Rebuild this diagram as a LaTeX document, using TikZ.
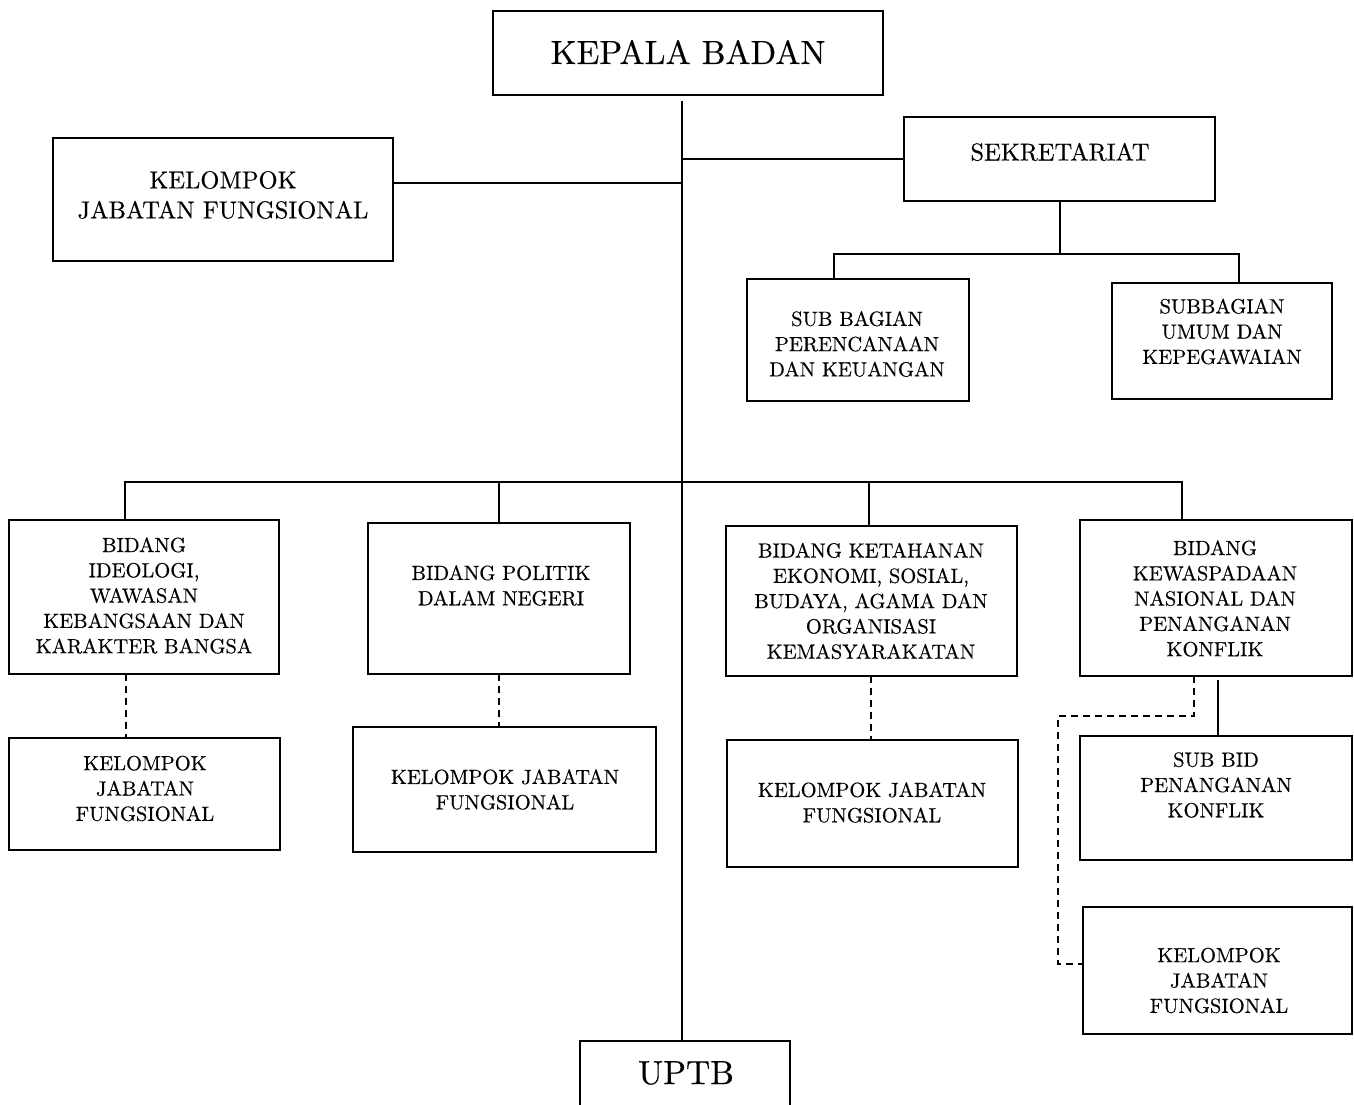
\documentclass[tikz,border=0pt]{standalone}
\usepackage{fontspec}
\setmainfont{lmroman10-regular.otf}[FakeBold=0.35]
\usetikzlibrary{fit}
\begin{document}
\begin{tikzpicture}[x=1pt,y=-1pt,
  box/.style={draw=black, line width=1.8pt, inner sep=0pt, outer sep=0pt},
  conn/.style={draw=black, line width=1.8pt},
  dsh/.style={draw=black, line width=1.8pt, dash pattern=on 7pt off 5pt},
  tbig/.style={align=center, inner sep=0pt, font=\fontsize{33.5}{40}\selectfont},
  tmid/.style={align=center, inner sep=0pt, font=\fontsize{24.5}{30}\selectfont},
  tsm/.style={align=center, inner sep=0pt, font=\fontsize{20.5}{25.3}\selectfont}]
\useasboundingbox[fill=white] (0,0) rectangle (1354,1105);
% boxes
\node[box, fit={(493,11) (883,95)}] (kepala) {};
\node[box, fit={(53,138) (393,261)}] (kjf) {};
\node[box, fit={(904,117) (1215,201)}] (sek) {};
\node[box, fit={(747,279) (969,401)}] (sb1) {};
\node[box, fit={(1112,283) (1332,399)}] (sb2) {};
\node[box, fit={(9,520) (279,674)}] (b1) {};
\node[box, fit={(368,523) (630,674)}] (b2) {};
\node[box, fit={(726,526) (1017,676)}] (b3) {};
\node[box, fit={(1080,520) (1352,676)}] (b4) {};
\node[box, fit={(9,738) (280,850)}] (k1) {};
\node[box, fit={(353,727) (656,852)}] (k2) {};
\node[box, fit={(727,740) (1018,867)}] (k3) {};
\node[box, fit={(1080,736) (1352,860)}] (sbid) {};
\node[box, fit={(1083,907) (1352,1034)}] (k4) {};
\node[box, fit={(580,1041) (790,1112)}] (uptb) {};
% texts
\node[tbig] (kepalat) at (688,52) {KEPALA BADAN};
\node[tmid] (kjft) at (223,195) {KELOMPOK\\JABATAN FUNGSIONAL};
\node[tmid] (sekt) at (1060,152) {SEKRETARIAT};
\node[tsm] (sb1t) at (857,344) {SUB BAGIAN\\PERENCANAAN\\DAN KEUANGAN};
\node[tsm] (sb2t) at (1222,331.5) {SUBBAGIAN\\UMUM DAN\\KEPEGAWAIAN};
\node[tsm] (b1t) at (144,595.5) {BIDANG\\IDEOLOGI,\\WAWASAN\\KEBANGSAAN DAN\\KARAKTER BANGSA};
\node[tsm] (b2t) at (501,585.5) {BIDANG POLITIK\\DALAM NEGERI};
\node[tsm] (b3t) at (871,601) {BIDANG KETAHANAN\\EKONOMI, SOSIAL,\\BUDAYA, AGAMA DAN\\ORGANISASI\\KEMASYARAKATAN};
\node[tsm] (b4t) at (1215,598.5) {BIDANG\\KEWASPADAAN\\NASIONAL DAN\\PENANGANAN\\KONFLIK};
\node[tsm] (k1t) at (145,788.5) {KELOMPOK\\JABATAN\\FUNGSIONAL};
\node[tsm] (k2t) at (505,789.5) {KELOMPOK JABATAN\\FUNGSIONAL};
\node[tsm] (k3t) at (872,802.5) {KELOMPOK JABATAN\\FUNGSIONAL};
\node[tsm] (sbidt) at (1216,785) {SUB BID\\PENANGANAN\\KONFLIK};
\node[tsm] (k4t) at (1219,980.5) {KELOMPOK\\JABATAN\\FUNGSIONAL};
\node[tbig] (uptbt) at (686,1073) {UPTB};
% connectors
\coordinate (top) at (682,101);
\coordinate (j1) at (0,183);
\coordinate (sj) at (1060,254);
\coordinate (sa) at (834,254);
\coordinate (sbb) at (1239,254);
\coordinate (h1) at (125,482);
\coordinate (h2) at (499,482);
\coordinate (h3) at (869,482);
\coordinate (h4) at (1182,482);
\coordinate (v1) at (126,0);
\coordinate (v2) at (499,0);
\coordinate (v3) at (871,0);
\coordinate (v4) at (1218,680);
\coordinate (w1) at (1194,716);
\coordinate (w2) at (1058,964);
\draw[conn] (top) -- (top |- uptb.north);
\draw[conn] (kjf.east |- j1) -- (j1 -| top);
\draw[conn] (sek.west) -- (sek.west -| top);
\draw[conn] (sek.south -| sj) -- (sj);
\draw[conn] (sa |- sb1.north) -- (sa) -- (sbb) -- (sbb |- sb2.north);
\draw[conn] (h1 |- b1.north) -- (h1) -- (h4) -- (h4 |- b4.north);
\draw[conn] (h2) -- (h2 |- b2.north);
\draw[conn] (h3) -- (h3 |- b3.north);
\draw[dsh] (v1 |- b1.south) -- (v1 |- k1.north);
\draw[dsh] (v2 |- b2.south) -- (v2 |- k2.north);
\draw[dsh] (v3 |- b3.south) -- (v3 |- k3.north);
\draw[conn] (v4) -- (v4 |- sbid.north);
\draw[dsh] (w1 |- b4.south) -- (w1) -| (w2) -- (w2 -| k4.west);
\end{tikzpicture}
\end{document}
